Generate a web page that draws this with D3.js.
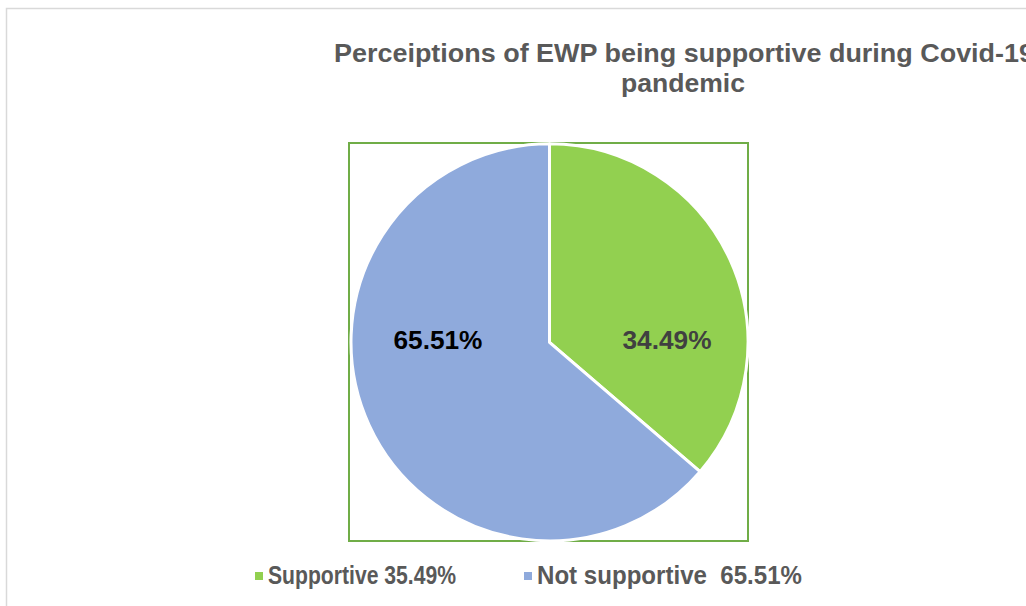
<!DOCTYPE html>
<html>
<head>
<meta charset="utf-8">
<script src="https://cdn.jsdelivr.net/npm/d3@7"></script>
<style>
  body { margin: 0; background: #fff; }
  svg { display: block; font-family: "Liberation Sans", Arial, sans-serif; }
</style>
</head>
<body>
<svg id="chart" width="1026" height="606"></svg>
<script>
// data
var categories = ["Supportive", "Not supportive"];
var sliceValues = [36.3, 63.7];           // slice sizes as drawn
var dataLabels = ["34.49%", "65.51%"];    // printed on the slices
var legendLabels = ["Supportive 35.49%", "Not supportive  65.51%"];
var titleLines = ["Perceiptions of EWP being supportive during Covid-19", "pandemic"];
var colors = ["#92d050", "#8faadc"];

var svg = d3.select("#chart");

// outer chart frame (runs off right and bottom)
svg.append("rect")
    .attr("x", 6.5).attr("y", 8.5)
    .attr("width", 1040).attr("height", 620)
    .attr("fill", "none")
    .attr("stroke", "#d9d9d9")
    .attr("stroke-width", 1.5);

// title
var title = svg.append("g").attr("font-weight", "bold").attr("fill", "#595959");
title.append("text")
    .attr("x", 334).attr("y", 62)
    .attr("font-size", "25px")
    .attr("textLength", 700)
    .attr("lengthAdjust", "spacingAndGlyphs")
    .text(titleLines[0]);
title.append("text")
    .attr("x", 621).attr("y", 92)
    .attr("font-size", "25px")
    .attr("textLength", 124)
    .attr("lengthAdjust", "spacingAndGlyphs")
    .text(titleLines[1]);

// plot area
var plot = {x: 349, y: 143, w: 399, h: 398};
svg.append("rect")
    .attr("x", plot.x).attr("y", plot.y)
    .attr("width", plot.w).attr("height", plot.h)
    .attr("fill", "none")
    .attr("stroke", "#70ad47")
    .attr("stroke-width", 2);

var cx = 549.5, cy = 342.3, radius = 198.5;

var pie = d3.pie().sort(null).value(function(d) { return d; });
var arc = d3.arc().innerRadius(0).outerRadius(radius);
var arcs = pie(sliceValues);

var g = svg.append("g").attr("transform", "translate(" + cx + "," + cy + ")");

g.selectAll("path")
    .data(arcs)
    .join("path")
    .attr("d", arc)
    .attr("fill", function(d, i) { return colors[i]; })
    .attr("stroke", "#fff")
    .attr("stroke-width", 3)
    .attr("stroke-linejoin", "round");

// data labels, Excel "best fit" puts them roughly level with the centre
var labelColors = ["#404040", "#000000"];
g.selectAll("text.lbl")
    .data(arcs)
    .join("text")
    .attr("class", "lbl")
    .attr("x", function(d) {
        var c = arc.centroid(d);
        return (c[0] > 0 ? 1 : -1) * radius * (c[0] > 0 ? 0.592 : 0.562);
    })
    .attr("y", 7)
    .attr("text-anchor", "middle")
    .attr("font-size", "25px")
    .attr("font-weight", "bold")
    .attr("fill", function(d, i) { return labelColors[i]; })
    .attr("textLength", 89)
    .attr("lengthAdjust", "spacingAndGlyphs")
    .text(function(d, i) { return dataLabels[i]; });

// legend
var legendX = [255, 524];
var legendW = [188, 265];
var legend = svg.append("g");
var item = legend.selectAll("g")
    .data(categories)
    .join("g")
    .attr("transform", function(d, i) { return "translate(" + legendX[i] + ",0)"; });
item.append("rect")
    .attr("x", 0).attr("y", 572)
    .attr("width", 8).attr("height", 8)
    .attr("fill", function(d, i) { return colors[i]; });
item.append("text")
    .attr("x", 13).attr("y", 584)
    .attr("font-size", "25px")
    .attr("font-weight", "bold")
    .attr("fill", "#595959")
    .attr("xml:space", "preserve")
    .style("white-space", "pre")
    .attr("textLength", function(d, i) { return legendW[i]; })
    .attr("lengthAdjust", "spacingAndGlyphs")
    .text(function(d, i) { return legendLabels[i]; });
</script>
</body>
</html>
